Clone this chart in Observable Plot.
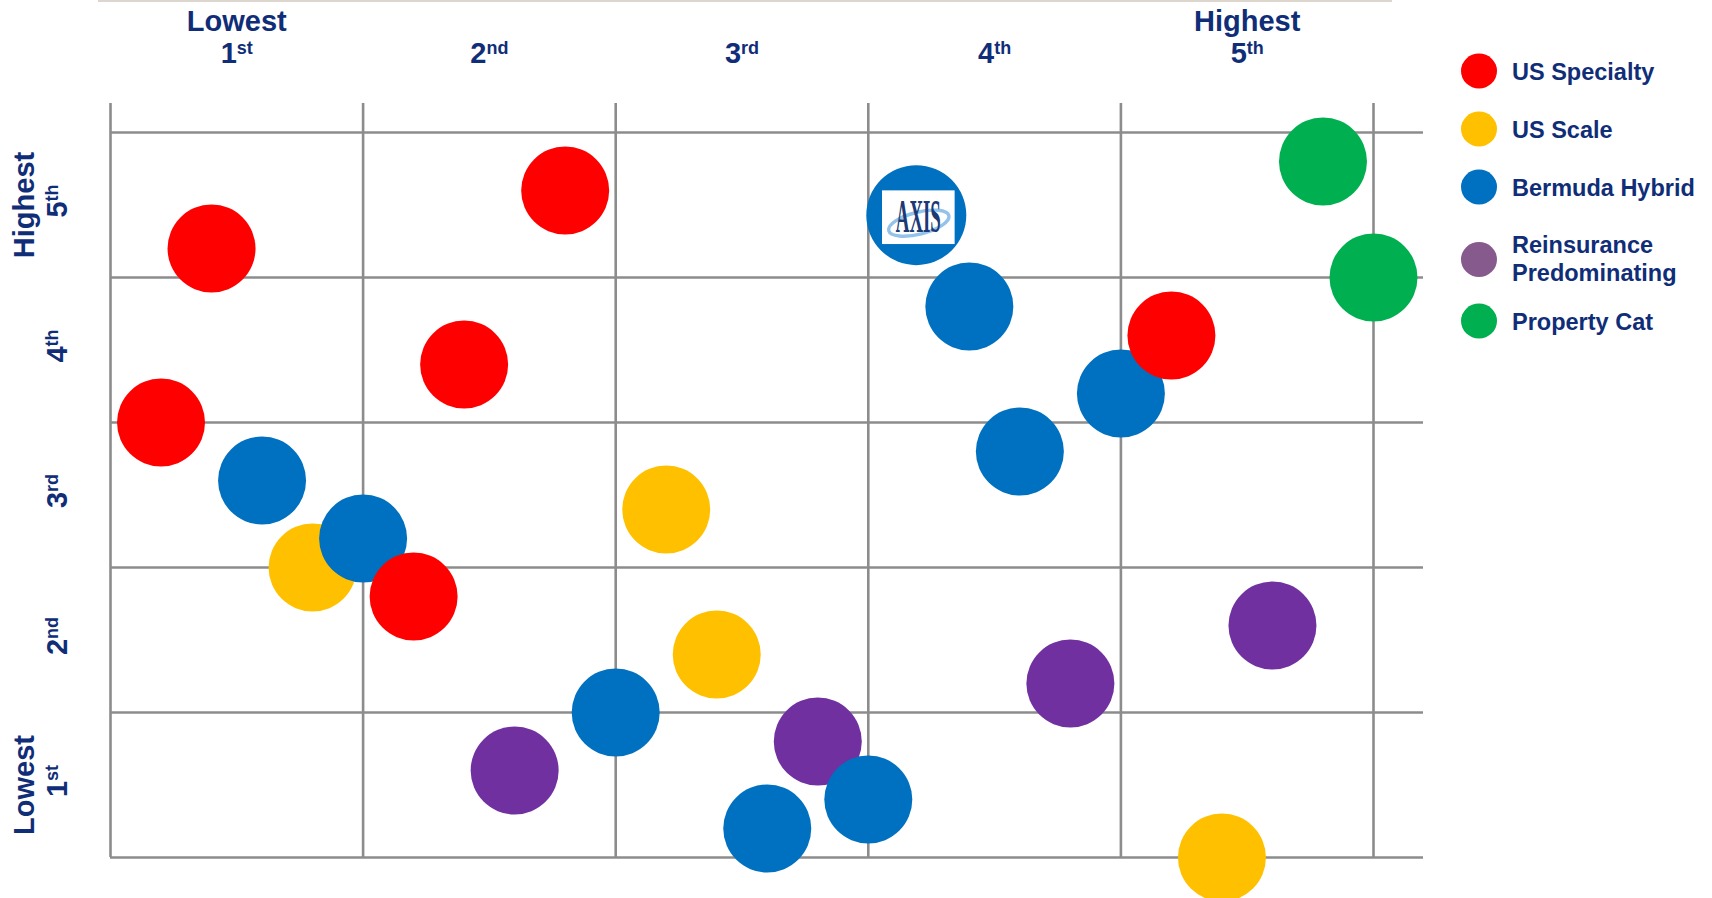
<!DOCTYPE html>
<html>
<head>
<meta charset="utf-8">
<script src="https://cdn.jsdelivr.net/npm/d3@7"></script>
<script src="https://cdn.jsdelivr.net/npm/@observablehq/plot@0.6"></script>
<style>
  html, body { margin: 0; padding: 0; background: #ffffff; }
  #wrap { position: relative; width: 1712px; height: 898px; overflow: hidden; font-family: "Liberation Sans", Arial, sans-serif; }
  #chart { position: absolute; left: 0; top: 0; }
  #topline { position: absolute; left: 98px; top: 0; width: 1294px; height: 2px; background: #ddd6ce; }
  .leg { position: absolute; left: 1461px; display: flex; align-items: center; transform: translateY(-50%); }
  .leg .sw { width: 36px; height: 35px; border-radius: 50%; flex: none; }
  .leg .lb { margin-left: 15px; font-size: 23.5px; font-weight: bold; color: #102d78; line-height: 28px; }
</style>
</head>
<body>
<div id="wrap">
  <div id="chart"></div>
  <div id="topline"></div>
  <div id="legend"></div>
</div>
<script>
// ---------- data ----------
const groups = ["US Specialty", "US Scale", "Bermuda Hybrid", "Reinsurance Predominating", "Property Cat"];
const legendLabels = ["US Specialty", "US Scale", "Bermuda Hybrid", "Reinsurance<br>Predominating", "Property Cat"];
const bubbleColors = ["#FF0000", "#FFC000", "#0070C0", "#7030A0", "#00B050"];
const legendColors = ["#FF0000", "#FFC000", "#0070C0", "#875A8E", "#00B050"];

const usSpecialtyX = [0.4, 1.8, 1.4, 0.2, 1.2, 4.2];
const usSpecialtyY = [4.2, 4.6, 3.4, 3.0, 1.8, 3.6];
const usScaleX = [0.8, 2.2, 2.4, 4.4];
const usScaleY = [2.0, 2.4, 1.4, 0.0];
const bermudaX = [0.6, 1.0, 2.0, 2.6, 3.0, 3.4, 3.6, 4.0];
const bermudaY = [2.6, 2.2, 1.0, 0.2, 0.4, 3.8, 2.8, 3.2];
const reinsX = [1.6, 2.8, 3.8, 4.6];
const reinsY = [0.6, 0.8, 1.2, 1.6];
const propCatX = [4.8, 5.0];
const propCatY = [4.8, 4.0];

// AXIS (Bermuda Hybrid), highlighted with its logo
const axisPoint = [{x: 3.19, y: 4.43, group: "Bermuda Hybrid", name: "AXIS"}];

const colLabels = ["1st", "2nd", "3rd", "4th", "5th"];
const rowLabels = ["1st", "2nd", "3rd", "4th", "5th"];
const extremeLabels = ["Lowest", "Highest"];
const quintiles = [0, 1, 2, 3, 4, 5];

// ---------- table (drawing order: scale, reinsurance, bermuda, specialty, cat) ----------
function rows(xs, ys, g) { return xs.map((x, i) => ({x, y: ys[i], group: g})); }
const points = [
  ...rows(usScaleX, usScaleY, "US Scale"),
  ...rows(reinsX, reinsY, "Reinsurance Predominating"),
  ...rows(bermudaX, bermudaY, "Bermuda Hybrid"),
  ...rows(usSpecialtyX, usSpecialtyY, "US Specialty"),
  ...rows(propCatX, propCatY, "Property Cat")
];

const navy = "#102d78";
const gridColor = "#8c8c8c";

const logoSvg = `<svg xmlns='http://www.w3.org/2000/svg' width='73' height='54' viewBox='0 0 73 54'>
<rect width='73' height='54' fill='#ffffff'/>
<ellipse cx='37' cy='33' rx='31' ry='11' fill='none' stroke='#93c3ea' stroke-width='3.4' transform='rotate(-14 37 33)'/>
<text x='14' y='42' font-family='Liberation Serif, DejaVu Serif, serif' font-weight='bold' font-size='46' fill='#1b3a75' textLength='45' lengthAdjust='spacingAndGlyphs'>AXIS</text>
</svg>`;
const logoSrc = "data:image/svg+xml;charset=utf-8," + encodeURIComponent(logoSvg);

const labelStyle = {fontSize: 29, fontWeight: "bold", fill: navy, textAnchor: "middle", lineAnchor: "middle"};

const chart = Plot.plot({
  width: 1712,
  height: 898,
  marginLeft: 110,
  marginRight: 339,
  marginTop: 132,
  marginBottom: 41,
  x: {domain: [0, 5], axis: null},
  y: {domain: [0, 5], axis: null},
  color: {domain: groups, range: bubbleColors},
  style: {background: "#ffffff", fontFamily: "'Liberation Sans', Arial, sans-serif", overflow: "visible"},
  marks: [
    Plot.ruleX(quintiles, {x: d => d, y1: 5, y2: 0, insetTop: -29, stroke: gridColor, strokeWidth: 2.6}),
    Plot.ruleY(quintiles, {y: d => d, x1: 0, x2: 5, insetRight: -50, stroke: gridColor, strokeWidth: 2.6}),
    Plot.dot(points, {x: "x", y: "y", fill: "group", r: 44, stroke: "none"}),
    Plot.dot(axisPoint, {x: "x", y: "y", fill: "group", r: 50, stroke: "none"}),
    Plot.image(axisPoint, {x: "x", y: "y", src: () => logoSrc, width: 73, height: 54, dx: 2, dy: 2}),
    // column labels
    Plot.text(colLabels, {x: (d, i) => i + 0.5, frameAnchor: "top", dy: -79, text: d => d, ...labelStyle}),
    Plot.text(extremeLabels, {x: (d, i) => i === 0 ? 0.5 : 4.5, frameAnchor: "top", dy: -111, text: d => d, ...labelStyle}),
    // row labels
    Plot.text(rowLabels, {y: (d, i) => i + 0.5, frameAnchor: "left", dx: -53, dy: -4, rotate: -90, text: d => d, ...labelStyle}),
    Plot.text(extremeLabels, {y: (d, i) => i === 0 ? 0.5 : 4.5, frameAnchor: "left", dx: -86, rotate: -90, text: d => d, ...labelStyle})
  ]
});

// superscript ordinal suffixes
chart.querySelectorAll("text").forEach(t => {
  const m = /^(\d)(st|nd|rd|th)$/.exec(t.textContent);
  if (m) {
    t.textContent = m[1];
    const ts = document.createElementNS("http://www.w3.org/2000/svg", "tspan");
    ts.setAttribute("font-size", "18");
    ts.setAttribute("dy", "-9");
    ts.textContent = m[2];
    t.appendChild(ts);
  }
});

document.getElementById("chart").appendChild(chart);

// legend
const legendCenters = [71, 129, 187, 259, 321];
const leg = document.getElementById("legend");
legendLabels.forEach((lab, i) => {
  const item = document.createElement("div");
  item.className = "leg";
  item.style.top = legendCenters[i] + "px";
  item.innerHTML = `<div class="sw" style="background:${legendColors[i]}"></div><div class="lb">${lab}</div>`;
  leg.appendChild(item);
});
</script>
</body>
</html>
